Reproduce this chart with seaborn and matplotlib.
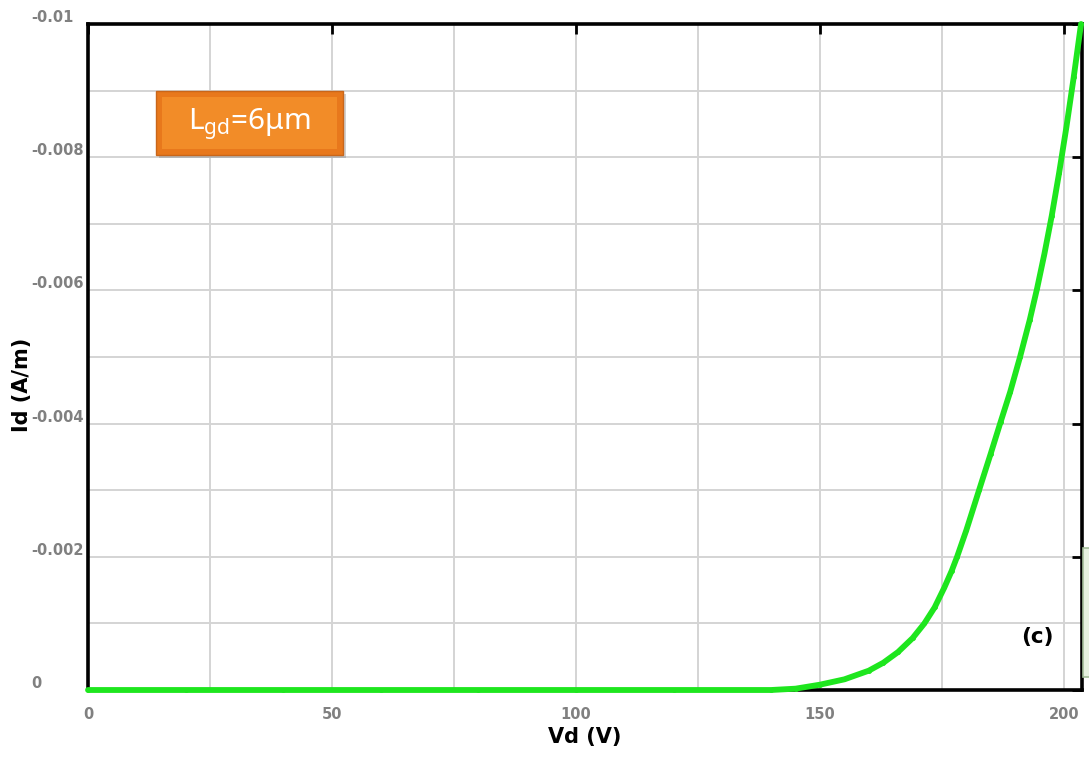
import numpy as np
import pandas as pd
import matplotlib
matplotlib.use("Agg")
import matplotlib.pyplot as plt
import matplotlib.transforms as mtransforms
from matplotlib.patches import FancyBboxPatch, Rectangle
from matplotlib.ticker import MultipleLocator, FixedLocator, FuncFormatter
import seaborn as sns

# Drain current versus drain voltage (off-state breakdown sweep)
vd = [0, 20, 40, 60, 80, 100, 120, 140, 145, 150, 155, 160, 163, 166,
      169, 171.4, 173.5, 175.5, 177, 178.1, 180, 182.6, 185, 187, 189,
      191, 193, 194.5, 196, 197.5, 199, 200.5, 202, 203.5]
id_am = [0, 0, 0, 0, 0, 0, 0, 0, -0.00002, -0.00008, -0.00016, -0.00029,
         -0.00041, -0.00057, -0.00078, -0.001, -0.00124, -0.00154,
         -0.00179, -0.002, -0.0024, -0.003, -0.00355, -0.00402, -0.00448,
         -0.005, -0.00556, -0.00603, -0.00655, -0.00712, -0.00776,
         -0.00845, -0.0092, -0.01]

x_ticks = [0, 50, 100, 150, 200]
y_ticks = [0, -0.002, -0.004, -0.006, -0.008, -0.01]
y_tick_labels = ["0", "-0.002", "-0.004", "-0.006", "-0.008", "-0.01"]

df = pd.DataFrame({"Vd": vd, "Id": id_am})

sns.set_theme(style="white")
plt.rcParams["font.family"] = ["DejaVu Sans"]

W, H = 1089, 765
fig = plt.figure(figsize=(W / 100, H / 100), dpi=100)
ax = fig.add_axes([88 / W, 1 - 690 / H, (1082 - 88) / W, (690 - 24) / H])

# grid: every 25 V and every 1 mA/m
ax.xaxis.set_minor_locator(MultipleLocator(25))
ax.yaxis.set_minor_locator(MultipleLocator(0.001))
ax.grid(True, which="both", color="#d4d4d4", linewidth=1.4, zorder=0)
ax.set_axisbelow(True)

sns.lineplot(data=df, x="Vd", y="Id", ax=ax, color="#1ee61e", linewidth=4.2,
             marker="o", markersize=3.5, markeredgewidth=0, zorder=5,
             clip_on=False)

ax.set_xlim(0, 203.7)
ax.set_ylim(0, -0.01)

ax.xaxis.set_major_locator(FixedLocator(x_ticks))
ax.yaxis.set_major_locator(FixedLocator(y_ticks))
ax.yaxis.set_major_formatter(
    FuncFormatter(lambda v, p: y_tick_labels[int(round(-v / 0.002))]))

for s in ax.spines.values():
    s.set_color("black")
    s.set_linewidth(2.6)

ax.tick_params(axis="both", which="major", direction="in", length=7,
               width=2, color="black", labelcolor="#808080",
               labelsize=10.5, top=True, right=True)
ax.tick_params(axis="x", which="major", pad=12)
ax.tick_params(axis="y", which="major", pad=5)
ax.tick_params(which="minor", length=0)
for lbl in ax.get_xticklabels() + ax.get_yticklabels():
    lbl.set_fontweight("bold")

# y labels: left-aligned in a column, lifted slightly above their ticks
shift = mtransforms.ScaledTranslation(-50 / 100, 8 / 100, fig.dpi_scale_trans)
for lbl in ax.get_yticklabels():
    lbl.set_horizontalalignment("left")
    lbl.set_transform(lbl.get_transform() + shift)

ax.set_xlabel("Vd (V)", fontsize=15, fontweight="bold", color="black",
              labelpad=4)
ax.set_ylabel("")
fig.text(22 / W, 1 - 385 / H, "Id (A/m)", rotation=90, fontsize=15,
         fontweight="bold", color="black", ha="center", va="center")

# panel tag
ax.text(1037 / W, 1 - 637 / H, "(c)", transform=fig.transFigure,
        fontsize=15.5, fontweight="bold", color="black",
        ha="center", va="center")

# device annotation box
shadow = FancyBboxPatch((159 / W, 1 - 158 / H), 187 / W, 64 / H,
                        boxstyle="square,pad=0", transform=fig.transFigure,
                        facecolor="#7a7a7a", edgecolor="none", alpha=0.35,
                        zorder=6)
fig.patches.append(shadow)
box = FancyBboxPatch((156 / W, 1 - 155 / H), 187 / W, 64 / H,
                     boxstyle="square,pad=0", transform=fig.transFigure,
                     facecolor="#e8781c", edgecolor="#c9661a", linewidth=1,
                     zorder=7)
fig.patches.append(box)
inner = FancyBboxPatch((162 / W, 1 - 149 / H), 175 / W, 52 / H,
                       boxstyle="square,pad=0", transform=fig.transFigure,
                       facecolor="#f28c28", edgecolor="none", zorder=8)
fig.patches.append(inner)
fig.text(249 / W, 1 - 124 / H, r"L$_{\mathregular{gd}}$=6μm",
         fontsize=21.5, color="white", family="Noto Sans",
         ha="center", va="center", zorder=9)

# partly hidden legend frame at the right border
fig.patches.append(Rectangle((1083 / W, 1 - 677 / H), 10 / W, 129 / H,
                             transform=fig.transFigure,
                             facecolor="#e6f1e0", edgecolor="#a3bd99",
                             linewidth=1.2, zorder=1))

fig.savefig("out.png", dpi=100, facecolor="white")
